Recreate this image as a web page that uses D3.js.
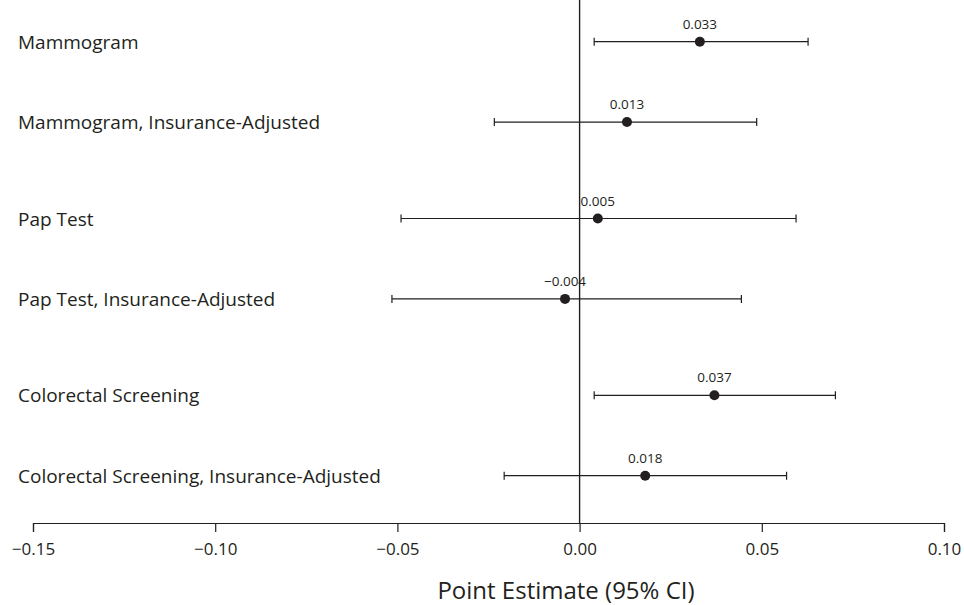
<!DOCTYPE html>
<meta charset="utf-8">
<style>
    body { margin: 0; background: #fff; }
    svg { font-family: "Open Sans", "Noto Sans", sans-serif; }
    .row-label { font-size: 19px; fill: #231f20; }
    .est-label { font-size: 13.5px; fill: #231f20; }
    .axis text { font-size: 17px; fill: #231f20; font-family: "Open Sans", sans-serif; }
    .axis path, .axis line { stroke: #231f20; stroke-width: 1.2px; }
    .axis-title { font-size: 24px; fill: #231f20; }
    .ci { stroke: #231f20; stroke-width: 1.2px; fill: none; }
</style>
<svg width="964" height="605"></svg>
<script src="https://d3js.org/d3.v7.min.js"></script>
<script>
    // Data
    const labels = [
        "Mammogram",
        "Mammogram, Insurance-Adjusted",
        "Pap Test",
        "Pap Test, Insurance-Adjusted",
        "Colorectal Screening",
        "Colorectal Screening, Insurance-Adjusted"
    ];
    const groups = [0, 0, 1, 1, 2, 2];
    const estimates = [0.033, 0.013, 0.005, -0.004, 0.037, 0.018];
    const lower = [0.0040, -0.0234, -0.0490, -0.0515, 0.0040, -0.0207];
    const upper = [0.0627, 0.0486, 0.0594, 0.0444, 0.0702, 0.0568];
    const estText = ["0.033", "0.013", "0.005", "\u22120.004", "0.037", "0.018"];
    const xTicks = [-0.15, -0.10, -0.05, 0.00, 0.05, 0.10];

    const svg = d3.select("svg");

    const rows = labels.map((name, i) => ({
        name: name,
        slot: i + groups[i] * 0.2,
        est: estimates[i],
        lo: lower[i],
        hi: upper[i],
        text: estText[i]
    }));

    const x = d3.scaleLinear()
        .domain([-0.15, 0.10])
        .range([33, 944]);

    const y = d3.scaleLinear()
        .domain([0, 5.4])
        .range([41.7, 475.7]);

    const axisY = 523;

    // x axis
    const fmt = d => (d < 0 ? "\u2212" : "") + d3.format(".2f")(Math.abs(d));
    svg.append("g")
        .attr("class", "axis")
        .attr("transform", `translate(0,${axisY})`)
        .call(d3.axisBottom(x).tickValues(xTicks).tickFormat(fmt).tickSize(9).tickSizeOuter(9).tickPadding(11));

    svg.append("text")
        .attr("class", "axis-title")
        .attr("x", 566)
        .attr("y", 599)
        .attr("text-anchor", "middle")
        .text("Point Estimate (95% CI)");

    // zero reference line
    svg.append("line")
        .attr("x1", x(0)).attr("x2", x(0))
        .attr("y1", 0).attr("y2", axisY)
        .attr("stroke", "#231f20")
        .attr("stroke-width", 1.4);

    // row labels
    svg.selectAll(".row-label")
        .data(rows)
        .join("text")
        .attr("class", "row-label")
        .attr("x", 18)
        .attr("y", d => y(d.slot) + 7)
        .text(d => d.name);

    // confidence intervals
    const g = svg.append("g");
    g.selectAll(".ci")
        .data(rows)
        .join("path")
        .attr("class", "ci")
        .attr("d", d => {
            const yy = y(d.slot), x0 = x(d.lo), x1 = x(d.hi);
            return `M${x0},${yy}H${x1}M${x0},${yy - 4}V${yy + 4}M${x1},${yy - 4}V${yy + 4}`;
        });

    g.selectAll(".dot")
        .data(rows)
        .join("circle")
        .attr("class", "dot")
        .attr("cx", d => x(d.est))
        .attr("cy", d => y(d.slot))
        .attr("r", 5)
        .attr("fill", "#231f20");

    g.selectAll(".est-label")
        .data(rows)
        .join("text")
        .attr("class", "est-label")
        .attr("x", d => x(d.est))
        .attr("y", d => y(d.slot) - 13)
        .attr("text-anchor", "middle")
        .text(d => d.text);
</script>
